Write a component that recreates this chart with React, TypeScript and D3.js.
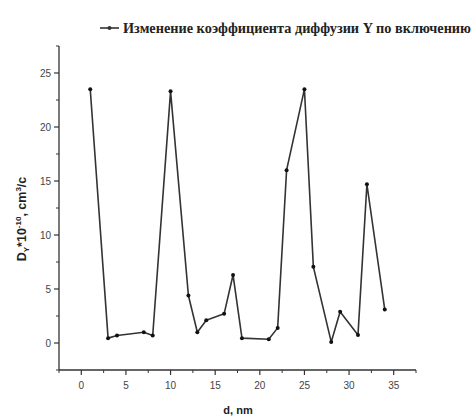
import React from "react";
import * as d3 from "d3";

// Diffusion coefficient of Y versus inclusion size
const sizes = [1, 3, 4, 7, 8, 10, 12, 13, 14, 16, 17, 18, 21, 22, 23, 25, 26, 28, 29, 31, 32, 34];
const coeffs = [23.5, 0.45, 0.7, 1.0, 0.7, 23.3, 4.4, 1.0, 2.1, 2.7, 6.3, 0.45, 0.35, 1.4, 16.0, 23.5, 7.05, 0.1, 2.9, 0.75, 14.7, 3.1];

const xTicks = [0, 5, 10, 15, 20, 25, 30, 35];
const yTicks = [0, 5, 10, 15, 20, 25];
const xMinor = [-2.5, 2.5, 7.5, 12.5, 17.5, 22.5, 27.5, 32.5, 37.5];
const yMinor = [-2.5, 2.5, 7.5, 12.5, 17.5, 22.5, 27.5];

const legendLabel = "Изменение коэффициента диффузии Y по включению";

const W = 475;
const H = 419;
const left = 59;
const right = 416;
const top = 46;
const bottom = 370;
const ink = "#333";

export default function App() {
  const x = d3.scaleLinear().domain([-2.5, 37.5]).range([left, right]);
  const y = d3.scaleLinear().domain([-2.5, 27.5]).range([bottom, top]);
  const pts = sizes.map((s, i) => [s, coeffs[i]] as [number, number]);
  const line = d3
    .line<[number, number]>()
    .x((d) => x(d[0]))
    .y((d) => y(d[1]));

  return (
    <svg
      width={W}
      height={H}
      style={{ position: "absolute", left: 0, top: 0, background: "#fff" }}
    >
      {/* legend */}
      <g transform="translate(0,28)">
        <line x1={100} x2={119} y1={0} y2={0} stroke={ink} strokeWidth={1.6} />
        <circle cx={109.5} cy={0} r={2} fill={ink} />
        <text
          x={123}
          y={4.5}
          fontFamily="Liberation Serif, serif"
          fontWeight="bold"
          fontSize={14}
          textLength={348}
          lengthAdjust="spacingAndGlyphs"
          fill="#222"
        >
          {legendLabel}
        </text>
      </g>

      {/* axes */}
      <line x1={left} x2={left} y1={top} y2={bottom} stroke={ink} strokeWidth={1.3} />
      <line x1={left} x2={right} y1={bottom} y2={bottom} stroke={ink} strokeWidth={1.3} />

      {xTicks.map((t) => (
        <g key={"xt" + t}>
          <line x1={x(t)} x2={x(t)} y1={bottom} y2={bottom + 5} stroke={ink} strokeWidth={1.2} />
          <text
            x={x(t)}
            y={bottom + 19}
            textAnchor="middle"
            fontFamily="Liberation Sans, Arial, sans-serif"
            fontSize={10}
            fill="#444"
          >
            {t}
          </text>
        </g>
      ))}
      {xMinor.map((t) => (
        <line key={"xm" + t} x1={x(t)} x2={x(t)} y1={bottom} y2={bottom + 3} stroke={ink} strokeWidth={1} />
      ))}

      {yTicks.map((t) => (
        <g key={"yt" + t}>
          <line x1={left - 5} x2={left} y1={y(t)} y2={y(t)} stroke={ink} strokeWidth={1.2} />
          <text
            x={left - 8}
            y={y(t) + 3.5}
            textAnchor="end"
            fontFamily="Liberation Sans, Arial, sans-serif"
            fontSize={10}
            fill="#444"
          >
            {t}
          </text>
        </g>
      ))}
      {yMinor.map((t) => (
        <line key={"ym" + t} x1={left - 3} x2={left} y1={y(t)} y2={y(t)} stroke={ink} strokeWidth={1} />
      ))}

      {/* axis titles */}
      <text
        x={238}
        y={414}
        textAnchor="middle"
        fontFamily="Liberation Sans, Arial, sans-serif"
        fontWeight="bold"
        fontSize={11}
        fill="#222"
      >
        d, nm
      </text>
      <text
        transform="translate(26,219) rotate(-90)"
        textAnchor="middle"
        fontFamily="Liberation Sans, Arial, sans-serif"
        fontWeight="bold"
        fontSize={12.5}
        fill="#222"
      >
        D
        <tspan fontSize={8} dy={3}>Y</tspan>
        <tspan dy={-3}>*10</tspan>
        <tspan fontSize={8} dy={-5}>-10</tspan>
        <tspan dy={5}>, cm</tspan>
        <tspan fontSize={8} dy={-5}>3</tspan>
        <tspan dy={5}>/c</tspan>
      </text>

      {/* series */}
      <path d={line(pts) ?? ""} fill="none" stroke={ink} strokeWidth={1.6} strokeLinejoin="round" />
      {pts.map((p, i) => (
        <circle key={i} cx={x(p[0])} cy={y(p[1])} r={2} fill="#111" />
      ))}
    </svg>
  );
}
